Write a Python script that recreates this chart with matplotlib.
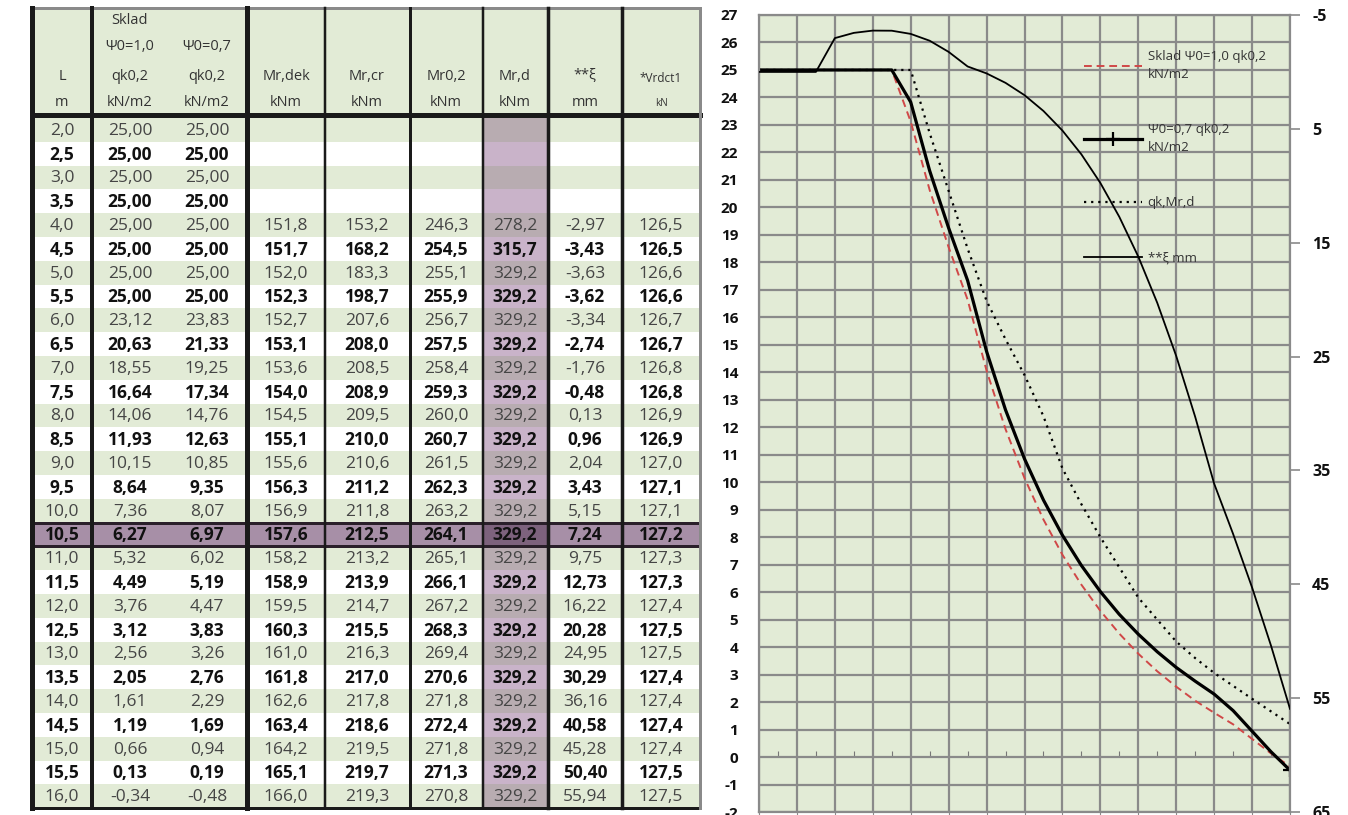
import matplotlib
matplotlib.use("Agg")
import matplotlib.pyplot as plt
from matplotlib.patches import Rectangle
import numpy as np

plt.rcParams['font.family'] = ['Open Sans', 'DejaVu Sans']

# table / chart data
L = [2.0, 2.5, 3.0, 3.5, 4.0, 4.5, 5.0, 5.5, 6.0, 6.5, 7.0, 7.5, 8.0, 8.5, 9.0,
     9.5, 10.0, 10.5, 11.0, 11.5, 12.0, 12.5, 13.0, 13.5, 14.0, 14.5, 15.0, 15.5, 16.0]
qk_psi10 = [25.00, 25.00, 25.00, 25.00, 25.00, 25.00, 25.00, 25.00, 23.12, 20.63, 18.55, 16.64,
            14.06, 11.93, 10.15, 8.64, 7.36, 6.27, 5.32, 4.49, 3.76, 3.12, 2.56, 2.05, 1.61,
            1.19, 0.66, 0.13, -0.34]
qk_psi07 = [25.00, 25.00, 25.00, 25.00, 25.00, 25.00, 25.00, 25.00, 23.83, 21.33, 19.25, 17.34,
            14.76, 12.63, 10.85, 9.35, 8.07, 6.97, 6.02, 5.19, 4.47, 3.83, 3.26, 2.76, 2.29,
            1.69, 0.94, 0.19, -0.48]
mr_dek = [None] * 4 + [151.8, 151.7, 152.0, 152.3, 152.7, 153.1, 153.6, 154.0, 154.5, 155.1,
                       155.6, 156.3, 156.9, 157.6, 158.2, 158.9, 159.5, 160.3, 161.0, 161.8,
                       162.6, 163.4, 164.2, 165.1, 166.0]
mr_cr = [None] * 4 + [153.2, 168.2, 183.3, 198.7, 207.6, 208.0, 208.5, 208.9, 209.5, 210.0,
                      210.6, 211.2, 211.8, 212.5, 213.2, 213.9, 214.7, 215.5, 216.3, 217.0,
                      217.8, 218.6, 219.5, 219.7, 219.3]
mr_02 = [None] * 4 + [246.3, 254.5, 255.1, 255.9, 256.7, 257.5, 258.4, 259.3, 260.0, 260.7,
                      261.5, 262.3, 263.2, 264.1, 265.1, 266.1, 267.2, 268.3, 269.4, 270.6,
                      271.8, 272.4, 271.8, 271.3, 270.8]
mr_d = [None] * 4 + [278.2, 315.7] + [329.2] * 23
xi = [None] * 4 + [-2.97, -3.43, -3.63, -3.62, -3.34, -2.74, -1.76, -0.48, 0.13, 0.96, 2.04,
                   3.43, 5.15, 7.24, 9.75, 12.73, 16.22, 20.28, 24.95, 30.29, 36.16, 40.58,
                   45.28, 50.40, 55.94]
vrdct1 = [None] * 4 + [126.5, 126.5, 126.6, 126.6, 126.7, 126.7, 126.8, 126.8, 126.9, 126.9,
                       127.0, 127.1, 127.1, 127.2, 127.3, 127.3, 127.4, 127.5, 127.5, 127.4,
                       127.4, 127.4, 127.4, 127.5, 127.5]
# qk limited by Mr,d
qk_mrd = [25.0, 25.0, 25.0, 25.0, 25.0, 25.0, 25.0, 25.0, 25.0, 22.7, 20.6, 18.5, 16.6, 15.2,
          13.9, 12.4, 10.5, 9.2, 8.0, 6.9, 5.8, 5.0, 4.2, 3.6, 3.06, 2.59, 2.12, 1.66, 1.2]

GREEN = '#e2ebd6'
px = 1 / 1.389

fig = plt.figure(figsize=(13.48, 8.15), dpi=100)

# ---------------- table ----------------
t = fig.add_axes([0, 0, 1, 1])
t.set_xlim(0, 1348)
t.set_ylim(815, 0)
t.axis('off')

edges = [32, 92, 247, 325, 410, 483, 548, 622, 700]
centers = [62, 130, 207, 286, 367, 446, 515, 585, 661]
top0, rh = 118, 23.8
bottom = top0 + rh * len(L)

t.add_patch(Rectangle((32, 8), 668, 106, facecolor=GREEN, edgecolor='none'))
t.plot([32, 700], [8, 8], color='#8a8a8a', lw=3 * px)

hdr = [
    (20, [(130, 'Sklad')]),
    (46, [(130, 'Ψ0=1,0'), (207, 'Ψ0=0,7')]),
    (76, [(62, 'L'), (130, 'qk0,2'), (207, 'qk0,2'), (286, 'Mr,dek'), (367, 'Mr,cr'),
          (446, 'Mr0,2'), (515, 'Mr,d'), (585, '**ξ')]),
    (103, [(62, 'm'), (130, 'kN/m2'), (207, 'kN/m2'), (286, 'kNm'), (367, 'kNm'),
           (446, 'kNm'), (515, 'kNm'), (585, 'mm')]),
]
for y, items in hdr:
    for x, s in items:
        t.text(x, y, s, ha='center', va='center', fontsize=10.5, color='#333333')
t.text(661, 78, '*Vrdct1', ha='center', va='center', fontsize=8.5, color='#333333')
t.text(661, 103, 'kN', ha='center', va='center', fontsize=7, color='#333333')


def fmt(v, d):
    if v is None:
        return ''
    return f"{v:.{d}f}".replace('.', ',')


cols = [(L, 1), (qk_psi10, 2), (qk_psi07, 2), (mr_dek, 1), (mr_cr, 1), (mr_02, 1),
        (mr_d, 1), (xi, 2), (vrdct1, 1)]
hl = L.index(10.5)
for i in range(len(L)):
    y0 = top0 + i * rh
    odd = i % 2 == 1
    if i == hl:
        bg, mbg = '#a78fa7', '#7d627d'
    elif odd:
        bg, mbg = 'white', '#c9b3c9'
    else:
        bg, mbg = GREEN, '#b8acb1'
    t.add_patch(Rectangle((32, y0), 668, rh, facecolor=bg, edgecolor='none'))
    t.add_patch(Rectangle((483, y0), 65, rh, facecolor=mbg, edgecolor='none'))
    bold = odd or i == hl
    for (vals, d), cx in zip(cols, centers):
        t.text(cx, y0 + rh / 2 + 1, fmt(vals[i], d), ha='center', va='center',
               fontsize=12.5, fontweight='bold' if bold else 'normal',
               color='#111111' if bold else '#454545')

y_hl = top0 + hl * rh
t.add_patch(Rectangle((32, y_hl), 668, rh, facecolor='none', edgecolor='#2a1f2a',
                      lw=3 * px))
t.plot([32, 700], [115, 115], color='#1a1a1a', lw=5 * px)
t.plot([32, 700], [bottom, bottom], color='#1a1a1a', lw=3 * px)
vw = [5, 4, 5, 2.5, 3, 2.5, 3.5, 3.5, 3]
for x, w in zip(edges, vw):
    t.plot([x, x], [8, bottom], color='#8a8a8a' if x == 700 else '#1a1a1a', lw=w * px)

# ---------------- chart ----------------
ax = fig.add_axes([759 / 1348, 3 / 815, 531 / 1348, 797 / 815])
ax.set_facecolor(GREEN)
ax.set_xlim(2, 16)
ax.set_ylim(-2, 27)
ax.set_xticks(np.arange(2, 17, 1))
ax.set_xticklabels([])
ax.set_yticks(np.arange(-2, 28, 1))
ax.set_yticklabels([str(v) for v in range(-2, 28)], fontsize=11, fontweight='bold',
                   color='#111111')
ax.tick_params(axis='y', length=0, pad=15)
ax.tick_params(axis='x', length=3, color='#8a8a8a', direction='out')
ax.grid(True, color='#8a8a8a', lw=1.6)
ax.set_axisbelow(True)
for s in ax.spines.values():
    s.set_color('#8a8a8a')
    s.set_linewidth(1.6)

sec = ax.secondary_xaxis(2 / 29)
sec.set_xticks(np.arange(2.5, 16, 1))
sec.set_xticklabels([])
sec.tick_params(length=4, direction='in', color='#777777')
sec.spines['bottom'].set_visible(False)

l1, = ax.plot(L, qk_psi10, color='#d04848', lw=1.4, ls=(0, (4, 2.5)),
              label='Sklad Ψ0=1,0 qk0,2\nkN/m2')
l2, = ax.plot(L, qk_psi07, color='black', lw=2.3, marker='+', markersize=10,
              markeredgewidth=1.6, markevery=[-1], label='Ψ0=0,7 qk0,2\nkN/m2')
l3, = ax.plot(L, qk_mrd, color='black', lw=1.6, ls=(0, (1, 2.2)), label='qk,Mr,d')

ax2 = ax.twinx()
ax2.set_ylim(65, -5)
ax2.set_yticks(np.arange(-5, 66, 10))
ax2.set_yticklabels([str(v) for v in range(-5, 66, 10)], fontsize=11.5,
                    fontweight='bold', color='#111111')
ax2.tick_params(axis='y', length=7, color='#8a8a8a', width=1.2, pad=9)
for s in ax2.spines.values():
    s.set_visible(False)
# Excel plots empty cells as zero
xi_plot = [v if v is not None else 0 for v in xi]
l4, = ax2.plot(L, xi_plot, color='black', lw=1.3, label='**ξ mm')

leg = ax2.legend(handles=[l1, l2, l3, l4], loc='upper left',
                 bbox_to_anchor=(0.595, 0.968), frameon=False, fontsize=9.5,
                 handlelength=4.4, handletextpad=0.4, labelspacing=3.2,
                 borderpad=0.2)
for txt in leg.get_texts():
    txt.set_color('#333333')
    txt.set_linespacing(1.5)

fig.savefig('out.png', dpi=100)
